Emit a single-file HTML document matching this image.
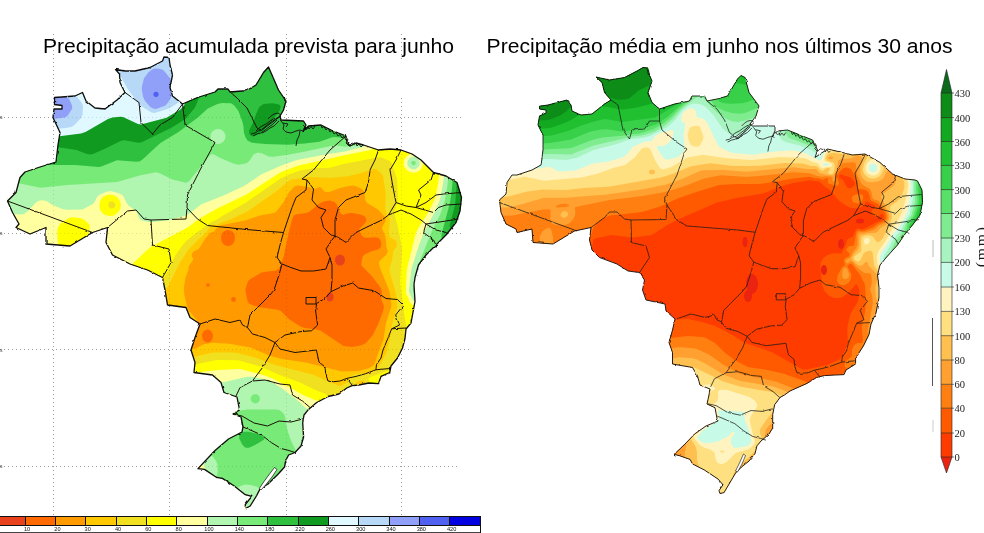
<!DOCTYPE html>
<html><head><meta charset="utf-8"><title>Precipitação</title>
<style>
html,body{margin:0;padding:0;background:#fff;}
body{width:984px;height:533px;overflow:hidden;font-family:"Liberation Sans",sans-serif;}
svg{display:block;position:absolute;left:0;top:0;}
text{font-family:"Liberation Sans",sans-serif;}
.t{font-size:19.3px;fill:#000;}
.sf{font-family:"Liberation Serif",serif;}
</style></head><body>
<svg width="984" height="533" viewBox="0 0 984 533">
<rect width="984" height="533" fill="#fff"/>
<defs><filter id="jag" x="-0.02" y="-0.02" width="1.04" height="1.04"><feTurbulence type="fractalNoise" baseFrequency="0.18" numOctaves="2" seed="7" result="n"/><feDisplacementMap in="SourceGraphic" in2="n" scale="2.2" xChannelSelector="R" yChannelSelector="G"/></filter></defs>
<g stroke="#9c9c9c" stroke-width="1" stroke-dasharray="1 3" fill="none" shape-rendering="crispEdges"><line x1="53.0" y1="34" x2="53.0" y2="516" /><line x1="169.5" y1="34" x2="169.5" y2="516" /><line x1="286.0" y1="34" x2="286.0" y2="516" /><line x1="401.5" y1="34" x2="401.5" y2="516" /><line x1="0" y1="117.0" x2="461" y2="117.0" /><line x1="0" y1="233.0" x2="462" y2="233.0" /><line x1="0" y1="349.5" x2="472" y2="349.5" /><line x1="0" y1="466.0" x2="459" y2="466.0" /></g>
<rect x="395" y="30" width="90" height="68" fill="#fff"/>
<g stroke="#9a9a9a" stroke-width="1" stroke-dasharray="1 3" fill="none" shape-rendering="crispEdges"><line x1="401.5" y1="34" x2="401.5" y2="62"/></g>
<clipPath id="clipL"><path d="M54.5,97.5L62.0,97.0L75.0,96.0L82.5,92.5L86.0,101.0L95.0,108.0L105.0,109.0L117.0,100.0L125.0,92.5L120.0,82.5L119.5,74.0L115.5,69.5L125.0,71.0L135.0,71.0L150.0,67.5L162.5,61.0L164.0,57.0L169.0,57.5L170.0,65.0L172.5,75.0L170.0,87.5L172.5,96.0L182.5,104.0L197.5,97.5L215.0,92.0L218.0,89.0L228.0,89.0L230.0,92.0L242.0,91.0L246.0,91.0L256.0,85.0L263.5,72.5L268.5,67.0L272.0,75.0L278.5,90.0L286.0,101.0L283.5,110.0L280.0,116.0L281.0,120.0L303.5,121.0L306.0,125.0L303.0,131.0L308.5,126.0L321.0,125.0L331.0,130.0L346.0,136.0L347.0,142.0L350.0,146.0L356.0,143.0L363.5,145.0L378.5,150.0L390.0,149.0L401.0,150.0L412.0,154.0L421.0,160.0L433.5,172.5L446.0,176.0L457.0,182.5L461.5,197.5L460.0,211.0L456.0,222.5L446.0,235.0L436.0,245.0L426.0,255.0L418.5,265.0L415.0,277.5L414.0,285.0L415.0,301.5L411.0,323.0L406.0,329.0L405.0,338.5L402.5,348.0L397.5,358.0L391.0,366.0L389.7,372.5L381.0,376.4L378.5,383.7L369.0,383.0L358.7,385.0L352.0,385.7L346.8,388.0L338.9,394.0L328.0,396.5L316.4,402.8L308.5,409.4L304.0,415.0L302.7,423.0L303.6,437.0L301.0,446.0L295.0,452.5L288.6,455.0L286.0,460.0L284.5,467.0L278.0,474.3L268.0,484.0L260.0,489.0L256.7,495.5L250.2,506.0L245.3,508.6L245.3,504.5L251.8,496.3L245.3,494.7L233.9,485.7L222.4,478.4L216.7,477.5L204.5,469.4L198.0,468.6L215.0,450.5L228.5,439.0L242.0,432.0L243.0,427.0L241.0,417.0L233.0,414.0L239.5,410.0L237.0,397.0L224.0,392.5L221.0,382.5L212.5,375.0L194.0,372.5L195.0,362.5L191.0,350.0L195.0,337.5L200.0,324.0L190.0,317.5L186.0,307.5L167.5,305.0L165.0,290.0L162.5,277.5L147.5,270.0L130.0,264.0L112.5,255.0L106.0,242.5L107.5,227.5L92.5,232.5L70.0,246.0L46.0,244.0L46.0,227.5L30.0,234.0L16.0,227.5L19.0,224.0L12.5,212.5L7.5,201.0L16.0,192.5L20.0,177.5L25.0,172.0L40.0,167.0L56.0,162.0L58.0,145.0L60.0,132.5L53.0,117.5L54.0,109.0L62.0,109.0L62.0,105.5L54.5,104.5Z"/></clipPath>
<g clip-path="url(#clipL)">
<rect x="0" y="50" width="480" height="465" fill="#ff6a00"/>
<path d="M1.5,50.0L480.0,50.0L480.0,515.0L0.0,515.0L0.0,50.0ZM323.6,201.5L319.5,203.6L309.0,212.0L306.0,212.9L295.5,214.6L294.0,215.5L292.5,218.0L289.7,228.5L283.5,257.0L279.6,267.5L278.7,269.0L276.0,270.5L264.0,271.9L261.0,272.7L249.0,280.1L247.5,282.5L245.3,290.0L247.4,300.5L249.0,303.4L250.5,304.3L259.5,307.3L277.5,309.7L280.5,310.7L289.5,319.5L300.0,326.2L304.5,327.9L316.5,329.4L320.4,330.5L343.5,346.1L352.5,347.1L361.5,345.2L366.0,342.9L372.8,335.0L378.0,324.5L383.1,311.0L384.0,306.5L381.2,299.0L382.0,293.0L381.0,288.2L372.0,276.3L361.9,266.0L361.4,264.5L361.6,261.5L362.6,257.0L364.5,254.5L372.0,251.0L378.0,249.4L380.2,248.0L381.3,245.0L381.0,241.8L379.7,239.0L378.0,237.7L375.0,237.2L367.5,237.8L364.5,237.5L363.0,236.7L361.1,234.5L359.4,231.5L359.2,230.0L359.8,228.5L364.5,223.7L366.3,221.0L366.2,218.0L364.5,216.2L361.5,214.8L352.5,213.0L349.5,213.0L343.5,214.8L342.0,214.6L340.5,213.4L336.8,204.5L334.5,201.9L330.0,200.4Z" fill="#ff9a00"/>
<path d="M1.5,50.0L480.0,50.0L480.0,515.0L0.0,515.0L0.0,50.0ZM294.5,186.5L288.9,192.5L283.0,203.0L276.0,212.0L273.0,213.2L261.0,215.2L246.0,220.2L220.5,225.6L216.2,228.5L214.2,231.5L210.0,233.0L205.0,239.0L199.5,248.1L198.0,249.5L194.5,251.0L192.6,252.5L191.6,255.5L192.0,257.1L193.2,258.5L193.1,260.0L188.8,266.0L188.3,270.5L185.4,278.0L183.8,288.5L184.3,294.5L187.4,308.0L189.1,311.0L196.7,320.0L198.1,323.0L197.7,324.5L193.5,329.7L190.7,338.0L190.5,341.0L191.7,347.0L192.7,348.5L195.0,348.7L204.0,344.3L213.0,342.7L229.5,343.8L250.5,347.6L270.0,355.7L282.0,359.1L306.0,362.6L342.0,371.6L358.5,371.1L367.5,368.5L372.1,366.5L373.9,365.0L374.8,363.5L377.1,356.0L383.4,339.5L386.0,323.0L391.3,306.5L391.4,303.5L389.5,291.5L379.9,267.5L378.8,263.0L379.2,261.5L380.6,260.0L385.5,255.5L387.0,253.4L387.7,251.0L386.3,246.5L386.2,242.0L385.2,236.0L382.0,228.5L382.9,225.5L385.5,221.0L385.3,218.0L384.0,216.0L378.0,209.6L367.2,203.0L365.3,200.0L364.7,194.0L363.8,191.0L361.5,188.9L355.5,185.9L352.5,185.4L346.4,186.5L340.3,188.0L330.0,191.8L327.0,192.3L324.0,191.3L321.0,187.4L319.5,187.1L315.0,189.0L309.0,187.3L298.5,185.6L297.0,185.6Z" fill="#ffc800"/>
<path d="M1.5,50.0L480.0,50.0L480.0,515.0L0.0,515.0L0.0,50.0ZM370.1,170.0L363.0,172.6L348.0,176.2L330.0,178.0L309.0,177.1L291.0,179.8L287.4,182.0L276.0,191.5L246.6,212.0L226.6,221.0L222.0,222.3L217.5,224.7L213.0,224.9L211.5,225.6L205.5,233.1L198.8,239.0L188.6,249.5L180.0,262.4L167.7,287.0L160.3,296.0L157.7,302.0L157.2,306.5L157.5,308.1L159.0,310.1L161.2,311.0L172.5,313.2L174.1,314.0L175.5,316.0L179.6,329.0L179.7,350.0L180.2,351.5L181.5,352.9L189.0,357.0L192.0,357.3L213.0,352.5L232.5,352.4L237.0,352.9L255.0,357.5L276.0,365.2L313.5,374.7L328.5,381.8L334.5,383.8L339.0,386.1L340.5,386.1L342.0,385.4L347.9,381.5L349.9,377.0L351.8,375.5L355.5,374.4L361.5,373.6L367.5,374.3L375.0,370.3L377.9,368.0L380.0,365.0L386.3,353.0L389.7,339.5L392.0,324.5L397.3,306.5L397.4,303.5L395.5,291.5L389.7,272.0L389.4,269.0L392.0,260.0L393.3,251.0L396.6,246.5L396.9,243.5L396.0,241.0L394.5,239.4L390.0,237.5L389.4,236.0L388.9,231.5L389.9,221.0L389.1,218.0L386.6,213.5L385.1,209.0L385.8,194.0L383.0,176.0L381.0,173.2L376.5,169.3L373.5,168.8ZM357.9,381.5L355.9,383.0L355.6,384.5L357.0,388.1L358.5,389.7L361.5,390.9L363.0,390.7L364.5,389.7L365.9,386.0L364.6,381.5L363.0,380.3L361.5,380.2Z" fill="#f0e020"/>
<path d="M1.5,50.0L480.0,50.0L480.0,515.0L0.0,515.0L0.0,50.0ZM416.2,128.0L411.4,131.0L407.3,135.5L403.9,141.5L403.0,146.0L404.6,147.5L414.0,147.7L420.0,149.3L424.4,152.0L430.5,157.1L432.0,156.1L432.4,155.0L433.9,147.5L433.6,141.5L432.0,135.4L429.0,130.7L425.4,128.0L421.5,127.0ZM374.8,158.0L343.5,164.0L330.0,167.7L313.5,168.2L300.0,170.6L289.5,174.3L280.5,178.5L246.0,202.5L220.5,217.0L217.0,219.5L211.5,221.9L198.0,231.5L186.7,240.5L183.0,244.6L175.3,255.5L169.3,269.0L163.0,279.5L160.5,282.0L142.1,296.0L137.5,300.5L133.1,306.5L129.2,315.5L128.1,324.5L128.6,329.0L129.9,333.5L134.1,341.0L141.3,348.5L154.9,359.0L162.5,363.5L171.0,366.7L177.0,367.7L181.5,367.5L216.0,360.1L238.5,360.3L260.6,366.5L279.0,374.7L300.0,382.6L316.4,390.5L325.5,393.9L331.5,399.3L334.5,399.6L337.8,398.0L343.5,391.6L346.2,387.5L348.0,386.4L349.5,386.5L351.0,387.5L354.5,395.0L358.5,398.6L361.5,399.6L364.5,399.7L369.0,397.7L371.2,395.0L372.3,390.5L371.5,386.0L368.6,380.0L368.4,378.5L370.5,377.0L391.5,369.5L394.5,367.9L400.5,363.2L402.7,360.5L407.8,351.5L409.7,336.5L409.3,333.5L406.4,326.0L405.3,321.5L400.1,282.5L402.0,251.0L401.7,246.5L397.9,227.0L394.3,213.5L394.4,210.5L396.9,204.5L398.0,200.0L397.1,179.0L391.4,162.5L389.5,161.0L381.0,157.3ZM110.2,201.5L108.5,203.0L108.3,206.0L109.2,207.5L111.0,208.5L114.0,207.9L115.3,206.0L115.4,204.5L114.8,203.0L112.5,201.2Z" fill="#ffff00"/>
<path d="M1.5,50.0L480.0,50.0L480.0,515.0L97.7,515.0L99.7,512.0L108.0,502.8L131.8,479.0L135.4,474.5L137.0,471.5L138.0,467.0L137.3,462.5L128.3,443.0L124.9,432.5L123.8,423.5L124.3,416.0L127.1,407.0L129.7,402.5L133.3,398.0L140.2,392.0L151.0,386.0L158.5,383.0L177.1,377.0L195.0,372.7L217.5,370.0L240.0,369.1L261.0,374.3L271.5,378.0L287.3,386.0L303.0,395.1L315.0,400.0L336.0,406.3L346.5,407.5L360.0,411.7L367.5,412.4L373.5,411.2L379.5,407.9L383.5,404.0L390.0,394.7L393.0,392.2L406.5,387.3L412.5,384.5L418.5,380.4L423.0,376.1L427.6,369.5L431.2,360.5L432.5,351.5L432.0,342.5L429.4,332.0L424.1,320.0L418.5,311.0L409.7,302.0L408.3,297.5L405.8,293.0L406.5,273.5L407.3,267.5L415.9,233.0L418.1,228.5L427.5,213.7L435.1,198.5L438.1,183.5L443.3,147.5L443.7,137.0L442.6,128.0L439.2,119.0L436.5,115.0L432.8,111.5L429.0,109.4L424.5,108.3L421.5,108.3L417.0,109.4L411.0,112.7L406.5,116.8L402.0,122.4L391.5,138.6L388.5,142.0L385.5,144.2L370.5,150.1L343.5,155.4L298.5,165.5L280.5,172.3L246.0,194.8L217.5,208.3L199.5,218.6L187.5,227.4L151.5,246.5L147.6,249.5L135.0,261.4L124.3,273.5L120.0,276.5L114.2,279.5L93.0,288.6L46.5,304.6L37.5,306.4L30.0,307.1L22.5,307.0L13.5,305.9L0.0,302.5L0.0,50.0ZM105.7,195.5L102.9,197.0L100.6,200.0L99.4,204.5L99.7,209.0L102.0,212.8L105.0,215.0L109.5,216.1L114.0,215.4L118.5,212.1L120.3,209.0L120.9,204.5L120.0,200.9L117.2,197.0L114.0,195.3L109.5,194.5ZM68.6,218.0L60.0,223.9L57.5,228.5L57.1,233.0L58.0,245.0L58.5,247.3L60.0,248.9L69.0,249.1L72.0,247.9L79.5,242.6L85.5,237.5L87.0,236.0L88.6,233.0L89.8,227.0L89.7,225.5L88.9,224.0L84.0,219.5L79.5,218.0L72.0,217.3ZM412.5,153.5L417.0,154.1L420.0,156.0L422.5,159.5L423.1,162.5L422.3,167.0L420.1,170.0L417.0,172.1L414.0,172.7L409.5,171.8L406.8,170.0L404.5,167.0L403.7,164.0L404.4,159.5L406.4,156.5L409.5,154.2Z" fill="#ffffa0"/>
<path d="M1.5,50.0L480.0,50.0L480.0,515.0L164.0,515.0L169.3,507.5L178.9,497.0L187.1,489.5L201.9,477.5L204.1,474.5L205.2,471.5L205.0,467.0L202.4,462.5L185.9,449.0L177.6,440.0L172.1,431.0L169.5,423.5L168.7,417.5L169.0,413.0L170.0,408.5L171.9,404.0L174.8,399.5L178.5,395.4L182.8,392.0L186.0,390.3L193.5,388.3L205.5,387.8L222.0,382.4L247.5,376.7L252.0,376.8L261.0,378.5L270.0,380.9L282.8,389.0L296.5,399.5L306.0,408.2L315.0,413.5L318.0,414.2L324.0,414.0L328.5,414.6L334.5,417.5L348.0,425.4L355.5,428.9L364.5,431.6L373.5,432.5L381.0,431.8L390.0,429.5L399.0,425.7L408.0,420.7L418.5,413.9L427.5,406.8L435.0,399.4L440.6,392.0L444.0,386.1L446.6,380.0L449.6,368.0L450.2,362.0L450.0,354.5L448.8,347.0L447.1,341.0L442.6,330.5L436.7,321.5L428.5,312.5L413.1,300.5L408.8,291.5L411.4,269.0L418.5,246.7L423.6,233.0L433.8,213.5L439.9,200.0L442.9,185.0L445.3,167.0L451.4,140.0L452.3,126.5L451.8,119.0L450.6,113.0L446.5,102.5L443.7,98.0L439.7,93.5L436.5,90.9L432.0,88.5L424.5,86.8L417.0,87.8L412.5,89.9L409.5,91.9L403.5,97.9L399.0,104.6L388.3,128.0L384.9,134.0L380.9,138.5L373.5,143.3L360.0,147.8L345.0,151.5L325.5,154.5L297.0,160.0L282.0,165.3L261.0,174.5L247.5,183.8L243.0,186.4L223.4,195.5L201.0,204.5L189.0,213.7L184.5,215.9L169.5,220.0L153.0,222.1L148.5,222.1L142.5,220.6L140.2,219.5L139.0,218.0L136.9,212.0L135.9,210.5L129.0,206.1L127.5,204.4L122.9,195.5L120.0,193.8L111.0,190.9L106.5,191.7L99.0,194.9L97.0,197.0L94.5,202.3L93.0,204.1L82.5,209.6L67.5,209.8L63.0,209.3L52.5,204.9L46.5,201.1L42.0,200.2L39.0,200.8L36.0,202.4L27.0,211.9L24.0,214.0L21.0,214.5L12.0,214.1L9.0,213.6L0.0,209.9L0.0,50.0ZM411.0,157.2L412.5,156.8L415.5,157.1L417.3,158.0L419.4,161.0L419.7,164.0L419.2,165.5L418.3,167.0L415.5,168.9L412.5,169.2L411.0,168.8L409.5,167.8L407.7,165.5L407.3,164.0L407.6,161.0L409.5,158.2Z" fill="#b0f5b0"/>
<path d="M1.5,50.0L480.0,50.0L480.0,515.0L272.1,515.0L275.7,509.0L276.6,506.0L276.7,503.0L275.5,500.0L272.2,497.0L256.5,486.6L250.7,485.0L246.0,484.4L242.8,485.0L236.6,488.0L233.0,491.0L231.7,494.0L231.6,498.5L232.7,503.0L235.3,509.0L239.0,515.0L198.1,515.0L199.5,504.5L202.5,494.8L205.9,489.5L214.0,482.0L217.1,474.5L217.8,471.5L217.2,464.0L216.1,461.0L211.5,455.0L205.5,450.0L203.4,447.5L201.2,443.0L199.6,437.0L199.6,431.0L201.4,425.0L205.5,420.1L211.5,416.7L217.5,414.9L231.0,412.1L247.5,409.6L276.0,409.5L279.0,409.9L280.5,410.7L283.1,413.0L285.0,416.0L286.6,426.5L288.0,431.9L291.0,440.6L295.8,450.5L298.7,458.0L298.6,461.0L296.3,470.0L296.3,474.5L297.0,477.8L298.5,480.5L300.0,481.8L304.5,482.8L310.5,482.1L337.5,476.3L367.5,472.8L378.0,471.0L391.5,467.4L403.5,462.8L412.5,458.2L420.0,453.6L427.5,448.2L435.0,441.8L441.4,435.5L447.9,428.0L453.0,420.9L457.5,413.5L461.5,405.5L464.8,396.5L467.2,387.5L468.5,378.5L468.9,369.5L468.3,360.5L466.6,351.5L464.4,344.0L461.3,336.5L458.0,330.5L454.0,324.5L448.9,318.5L442.3,312.5L436.5,308.4L418.5,299.0L415.5,295.8L414.0,292.9L413.3,290.0L414.7,285.5L419.9,278.0L420.3,276.5L417.6,269.0L418.5,264.3L432.0,230.8L440.0,215.0L444.6,201.5L447.1,188.0L449.3,168.5L458.1,141.5L461.3,126.5L462.0,117.5L462.0,110.0L460.9,101.0L459.2,93.5L456.6,86.0L453.0,78.6L448.5,71.9L444.0,66.9L439.5,63.0L433.5,59.2L427.5,56.7L421.5,55.5L415.5,55.6L411.0,56.6L405.0,59.3L400.5,62.7L397.0,66.5L393.9,71.0L390.9,77.0L388.6,83.0L385.5,95.1L381.0,122.0L379.3,128.0L377.3,132.5L374.3,137.0L371.0,140.0L358.5,145.2L345.0,146.8L336.0,145.4L333.0,145.4L301.5,152.3L286.5,155.0L273.0,156.8L268.5,156.4L262.5,153.4L258.0,152.6L255.3,153.5L253.2,155.0L249.2,161.0L247.5,162.7L244.5,163.8L238.5,164.8L234.0,163.8L220.2,158.0L214.5,154.7L211.5,154.1L210.0,155.2L189.0,181.2L186.0,182.7L172.5,179.6L159.0,172.9L156.0,172.2L139.5,175.4L117.0,182.1L67.5,185.0L40.5,187.7L0.0,179.2L0.0,50.0ZM412.5,160.8L414.6,161.0L415.8,162.5L415.7,164.0L414.0,165.3L412.5,165.1L411.4,164.0L411.2,162.5Z" fill="#78ea78"/>
<path d="M1.5,50.0L343.2,50.0L354.0,74.7L364.5,104.4L367.8,119.0L368.1,125.0L367.5,129.4L366.2,132.5L364.5,134.5L354.0,139.4L351.0,139.5L343.5,137.8L334.5,136.9L331.5,137.4L319.5,141.7L304.5,143.6L288.0,144.8L265.5,144.1L252.0,142.7L247.5,140.5L245.3,137.0L243.9,132.5L243.5,126.5L242.5,122.0L238.6,111.5L237.0,108.9L234.0,105.3L231.0,103.3L222.0,103.1L217.5,104.1L207.8,108.5L197.9,117.5L178.5,132.1L160.4,143.0L142.5,159.6L139.5,161.6L136.5,161.8L117.0,160.3L102.0,166.3L99.0,166.9L75.0,165.0L30.0,165.0L0.0,162.0L0.0,50.0ZM463.5,50.0L480.0,50.0L480.0,336.7L470.5,321.5L462.0,311.4L451.5,302.5L436.0,293.0L434.2,291.5L433.0,288.5L435.5,276.5L434.8,266.0L435.2,261.5L437.2,257.0L442.5,250.3L444.5,246.5L444.5,243.5L441.5,237.5L441.5,234.5L450.0,202.5L451.9,189.5L453.5,170.0L455.5,164.0L463.5,146.0L467.5,135.5L470.6,125.0L472.9,113.0L473.8,96.5L472.6,81.5L469.6,68.0L463.4,51.5L462.9,50.0ZM243.0,431.9L246.0,431.5L249.0,431.8L258.7,434.0L262.6,435.5L264.3,437.0L264.5,438.5L263.5,440.0L255.0,445.1L249.0,447.7L246.0,447.8L244.5,447.0L242.2,444.5L239.2,438.5L239.3,435.5L240.0,434.1ZM480.0,432.0L480.0,515.0L416.7,515.0L441.0,490.0L456.0,472.2L468.0,454.6Z" fill="#30c040"/>
<path d="M1.5,50.0L206.4,50.0L203.1,80.0L200.2,95.0L195.0,107.4L185.6,119.0L171.0,127.9L141.0,142.5L138.0,142.8L126.0,140.4L123.0,140.3L120.0,141.3L105.0,148.8L93.0,153.9L90.0,154.5L87.0,153.9L76.5,149.9L58.5,147.2L31.5,148.0L16.5,149.1L0.0,148.1L0.0,50.0ZM265.5,103.8L273.0,103.2L279.0,104.5L280.1,105.5L280.6,107.0L279.8,110.0L278.0,113.0L262.9,131.0L255.0,135.8L252.0,136.2L250.5,135.5L249.3,134.0L249.0,130.8L252.6,123.5L256.5,113.0L259.4,107.0L262.5,104.4ZM480.0,127.9L480.0,302.5L477.0,299.2L471.7,291.5L466.9,282.5L464.6,273.5L463.8,255.5L462.1,246.5L458.6,239.0L450.1,228.5L449.6,225.5L455.2,204.5L457.1,176.0L458.0,171.5L460.5,165.5L472.0,144.5ZM480.0,507.7L480.0,515.0L475.7,515.0L478.5,509.4Z" fill="#109a20"/>
<path d="M1.5,50.0L23.1,50.0L36.4,65.0L45.0,72.5L54.0,77.0L67.5,81.9L73.5,83.3L78.0,83.2L82.5,81.9L85.5,79.6L87.9,75.5L88.8,71.0L88.8,66.5L86.4,50.0L195.2,50.0L197.5,62.0L197.6,66.5L194.6,83.0L190.7,93.5L186.7,101.0L183.0,106.7L180.0,109.8L166.5,117.8L141.0,124.6L138.0,124.1L123.0,116.9L120.0,116.7L112.5,117.6L108.0,119.0L85.5,131.9L81.0,133.4L55.5,136.8L25.5,138.2L13.5,137.8L0.0,135.6L0.0,50.0ZM480.0,147.8L480.0,241.5L471.4,224.0L469.6,215.0L467.1,209.0L463.0,194.0L462.1,185.0L462.7,177.5L465.0,170.5L471.0,160.6Z" fill="#e0f8ff"/>
<path d="M112.5,50.0L180.0,50.0L184.5,59.6L186.0,66.5L185.9,84.5L182.9,96.5L181.5,99.8L178.5,102.5L169.2,108.5L154.5,113.1L151.5,112.5L141.0,106.0L138.0,102.9L127.7,89.0L121.0,77.0L116.5,63.5L112.2,54.5L111.8,50.0ZM1.5,70.2L9.0,71.2L16.5,73.6L24.0,77.0L37.0,84.5L40.5,86.0L61.5,89.9L73.5,94.1L76.6,96.5L81.4,102.5L83.0,105.5L82.5,114.5L81.5,117.5L74.4,125.0L72.0,126.7L69.0,127.5L57.0,129.1L39.0,130.0L24.0,129.1L12.0,126.7L0.0,121.9L0.0,70.2ZM480.0,164.3L480.0,199.5L477.0,195.8L474.0,190.6L472.5,186.5L471.9,182.0L472.4,177.5L474.1,173.0L477.0,167.8Z" fill="#b8d8f8"/>
<path d="M153.0,69.1L156.0,68.5L159.0,68.7L162.0,69.6L164.2,71.0L170.2,78.5L171.6,81.5L172.6,86.0L171.3,96.5L170.0,99.5L166.9,104.0L165.0,105.8L156.0,109.0L153.0,108.6L150.3,107.0L145.0,101.0L143.0,96.5L141.7,89.0L142.0,86.0L144.0,78.3L148.5,72.2ZM15.0,91.7L19.5,90.9L24.0,91.1L30.0,92.4L40.5,96.0L66.0,97.2L68.1,98.0L69.4,99.5L72.1,105.5L72.2,108.5L67.5,115.9L64.5,117.5L39.0,120.9L33.0,120.5L25.5,119.0L18.1,116.0L13.6,113.0L10.6,110.0L8.0,105.5L7.2,101.0L8.5,96.5L11.3,93.5Z" fill="#90a0f8"/>
<ellipse cx="218.0" cy="136.5" rx="7.5" ry="7.5" fill="#b0f5b0"/>
<ellipse cx="156.0" cy="94.3" rx="2.6" ry="2.6" fill="#5060f0"/>
<ellipse cx="228.0" cy="238.0" rx="7.0" ry="8.0" fill="#ff6a00"/>
<ellipse cx="207.5" cy="336.0" rx="5.5" ry="6.5" fill="#ff6a00"/>
<ellipse cx="340.0" cy="260.0" rx="5.0" ry="5.5" fill="#e8421c"/>
<ellipse cx="330.0" cy="297.0" rx="3.5" ry="4.5" fill="#e8421c"/>
<ellipse cx="208.0" cy="285.0" rx="1.8" ry="1.8" fill="#ff6a00"/>
<ellipse cx="233.5" cy="299.5" rx="2.4" ry="2.4" fill="#ff6a00"/>
<ellipse cx="255.3" cy="398.8" rx="4.6" ry="4.6" fill="#78ea78"/>
<ellipse cx="199.0" cy="466.5" rx="2.5" ry="2.0" fill="#ffffa0"/>
</g>
<g clip-path="url(#clipL)" opacity="0.3" style="mix-blend-mode:multiply"><g stroke="#9c9c9c" stroke-width="1" stroke-dasharray="1 3" fill="none" shape-rendering="crispEdges"><line x1="53.0" y1="34" x2="53.0" y2="516" /><line x1="169.5" y1="34" x2="169.5" y2="516" /><line x1="286.0" y1="34" x2="286.0" y2="516" /><line x1="401.5" y1="34" x2="401.5" y2="516" /><line x1="0" y1="117.0" x2="461" y2="117.0" /><line x1="0" y1="233.0" x2="462" y2="233.0" /><line x1="0" y1="349.5" x2="472" y2="349.5" /><line x1="0" y1="466.0" x2="459" y2="466.0" /></g></g>
<path d="M125.0,92.5L139.0,102.5L141.0,122.5L152.5,134.0L160.0,125.0L172.5,117.5L182.5,104.0M182.5,104.0L185.0,125.0L215.0,142.5L200.0,170.0L187.5,195.0L187.0,208.0M187.0,208.0L186.0,219.0L151.0,220.0M187.0,208.0L197.5,219.0L207.5,225.5L246.0,229.5L283.5,232.5M151.0,220.0L144.0,219.0L136.0,210.0L127.5,211.0L107.5,227.5M151.0,220.0L152.5,245.0L169.0,249.0L171.0,262.5L162.5,277.5M7.5,201.0L92.5,232.5M228.0,90.0L237.0,98.0L247.0,108.0L252.0,118.0L257.0,128.0L261.0,130.0L270.0,123.0L280.0,116.0M346.0,136.0L338.0,143.0L330.0,150.0L313.5,170.0L302.0,179.0M302.0,179.0L307.0,180.0L306.0,190.0L296.0,197.5L292.0,207.5L283.5,232.5L280.0,245.0L277.0,257.5L282.0,264.0M282.0,264.0L291.0,267.5L301.0,271.0L313.5,271.0L326.0,269.0L330.0,257.5L326.0,249.0L332.0,240.0L335.0,236.0M307.0,180.0L313.5,189.0L312.0,200.0L318.5,207.5L326.0,210.0L321.0,217.5L323.5,227.5L331.0,235.0L335.0,236.0M378.5,150.0L375.0,160.0L370.0,170.0L368.5,182.5L365.0,192.5L346.0,200.0L338.5,207.5L335.0,220.0L335.0,236.0M401.0,150.0L396.0,160.0L390.0,170.0L393.5,190.0L396.0,202.5L388.5,215.0L382.0,220.0L366.0,227.5L356.0,232.5L346.0,242.5L338.5,237.5L335.0,236.0M396.0,202.5L406.0,206.0L416.0,207.5L421.0,195.0L418.5,190.0L431.0,180.0L433.5,172.5M416.0,207.5L426.0,202.5L436.0,195.0L443.5,194.0L461.0,192.5M416.0,207.5L433.5,212.5L438.5,207.5L446.0,205.0L461.5,204.0M388.5,215.0L401.0,210.0L411.0,214.0L421.0,220.0L426.0,224.0L446.0,221.0L458.5,219.0M426.0,224.0L436.0,230.0L446.0,232.5L448.0,234.0M426.0,224.0L423.5,232.5L433.5,240.0L436.0,245.0M330.0,257.5L332.0,265.0L332.0,280.0L331.0,291.7M331.0,291.7L343.0,286.0L352.7,283.0L358.5,288.0L374.0,290.7L386.0,298.5L397.5,299.5L403.4,305.4L395.6,315.0L399.5,325.0L391.7,328.8M391.7,328.8L406.0,328.0M391.7,328.8L387.8,338.5L383.0,350.0L381.0,358.0L376.5,364.5L375.9,369.8M375.9,369.8L389.7,368.5M375.9,369.8L365.3,373.8L356.0,376.4L346.8,378.4L340.0,381.0L333.6,381.7M346.8,378.4L352.0,385.0M331.0,291.7L325.0,298.5L316.6,303.4L315.6,311.0L317.6,325.0L311.7,330.7L300.0,331.7L285.0,335.0L275.0,342.5M306.0,297.5L316.0,297.5L316.0,304.0L306.0,304.0L306.0,297.5M282.0,264.0L279.0,275.0L274.0,290.0L270.0,295.0L257.5,307.5L250.0,315.0L247.5,327.5M200.0,324.0L215.0,319.0L230.0,322.5L240.0,320.0L242.5,325.0L247.5,327.5M247.5,327.5L252.5,334.0L265.0,337.5L275.0,342.5M275.0,342.5L270.0,355.0L262.5,367.5L255.0,377.5L252.5,381.0M275.0,342.5L280.0,349.0L295.0,352.5L316.4,350.0L319.0,362.0L325.0,367.0L325.7,373.8L328.0,381.0L333.6,381.7M252.5,381.0L265.0,380.0L280.0,384.0L290.0,385.0L292.5,395.0L302.5,401.0L310.0,407.5M252.5,381.0L240.0,387.5L236.0,396.0M233.0,414.0L242.0,416.0L254.0,423.0L267.5,426.0L279.0,421.0L291.0,422.0L302.7,419.0M243.0,427.0L248.0,429.0L261.7,435.0L271.5,442.7L281.0,448.5L289.0,450.5L295.0,452.5" fill="none" stroke="#1a1208" stroke-width="1.0" stroke-linejoin="round" filter="url(#jag)"/>
<path d="M54.5,97.5L62.0,97.0L75.0,96.0L82.5,92.5L86.0,101.0L95.0,108.0L105.0,109.0L117.0,100.0L125.0,92.5L120.0,82.5L119.5,74.0L115.5,69.5L125.0,71.0L135.0,71.0L150.0,67.5L162.5,61.0L164.0,57.0L169.0,57.5L170.0,65.0L172.5,75.0L170.0,87.5L172.5,96.0L182.5,104.0L197.5,97.5L215.0,92.0L218.0,89.0L228.0,89.0L230.0,92.0L242.0,91.0L246.0,91.0L256.0,85.0L263.5,72.5L268.5,67.0L272.0,75.0L278.5,90.0L286.0,101.0L283.5,110.0L280.0,116.0L281.0,120.0L303.5,121.0L306.0,125.0L303.0,131.0L308.5,126.0L321.0,125.0L331.0,130.0L346.0,136.0L347.0,142.0L350.0,146.0L356.0,143.0L363.5,145.0L378.5,150.0L390.0,149.0L401.0,150.0L412.0,154.0L421.0,160.0L433.5,172.5L446.0,176.0L457.0,182.5L461.5,197.5L460.0,211.0L456.0,222.5L446.0,235.0L436.0,245.0L426.0,255.0L418.5,265.0L415.0,277.5L414.0,285.0L415.0,301.5L411.0,323.0L406.0,329.0L405.0,338.5L402.5,348.0L397.5,358.0L391.0,366.0L389.7,372.5L381.0,376.4L378.5,383.7L369.0,383.0L358.7,385.0L352.0,385.7L346.8,388.0L338.9,394.0L328.0,396.5L316.4,402.8L308.5,409.4L304.0,415.0L302.7,423.0L303.6,437.0L301.0,446.0L295.0,452.5L288.6,455.0L286.0,460.0L284.5,467.0L278.0,474.3L268.0,484.0L260.0,489.0L256.7,495.5L250.2,506.0L245.3,508.6L245.3,504.5L251.8,496.3L245.3,494.7L233.9,485.7L222.4,478.4L216.7,477.5L204.5,469.4L198.0,468.6L215.0,450.5L228.5,439.0L242.0,432.0L243.0,427.0L241.0,417.0L233.0,414.0L239.5,410.0L237.0,397.0L224.0,392.5L221.0,382.5L212.5,375.0L194.0,372.5L195.0,362.5L191.0,350.0L195.0,337.5L200.0,324.0L190.0,317.5L186.0,307.5L167.5,305.0L165.0,290.0L162.5,277.5L147.5,270.0L130.0,264.0L112.5,255.0L106.0,242.5L107.5,227.5L92.5,232.5L70.0,246.0L46.0,244.0L46.0,227.5L30.0,234.0L16.0,227.5L19.0,224.0L12.5,212.5L7.5,201.0L16.0,192.5L20.0,177.5L25.0,172.0L40.0,167.0L56.0,162.0L58.0,145.0L60.0,132.5L53.0,117.5L54.0,109.0L62.0,109.0L62.0,105.5L54.5,104.5Z" fill="none" stroke="#0c0c0c" stroke-width="1.3" stroke-linejoin="round" filter="url(#jag)"/>
<path d="M251,134L255,133L258,131L262,130L266,127L270,124L274,121L278,118L281,116M253,136L257,134L261,133L265,130L269,127L273,124L277,120M256,131L259,128L262,126L266,124L270,121L275,118M262,133L266,131L270,128L274,126L279,121M281,121L284,125L283,129L286,132L291,133L296,131L300,130L303,131M300,131L299,136L297,140L296,146M303,125L306,128L309,127M283,123L288,124L286,127M346,137L348,140L346,143L349,146L352,143L355,144M268,119L271,116L274,114L278,113L281,115M321,125L322,128L324,126.5L326,130L328,128L330,132L332,130.5L334,134L336,132.5L338,136L340,134.5L342,138L344,136.5L346,140M308,126L309,129L311,126.5L313,129L315,126M356,143L357,146L359,144L361,147L363,145" fill="none" stroke="#111" stroke-width="0.9" stroke-linejoin="round"/>
<path d="M274.5,467.5L277,469.5L272,477L266,484.5L261,490L259.3,488.5L264,481.5L269.5,474Z" fill="#fff" stroke="#111" stroke-width="0.7"/>
<text x="0" y="119.0" font-size="5" fill="#333">s</text>
<text x="0" y="235.0" font-size="5" fill="#333">s</text>
<text x="0" y="351.5" font-size="5" fill="#333">s</text>
<text x="0" y="468.0" font-size="5" fill="#333">s</text>
<rect x="-5.30" y="516" width="30.63" height="9.5" fill="#e8421c"/>
<rect x="25.03" y="516" width="30.63" height="9.5" fill="#ff6a00"/>
<rect x="55.36" y="516" width="30.63" height="9.5" fill="#ff9a00"/>
<rect x="85.69" y="516" width="30.63" height="9.5" fill="#ffc800"/>
<rect x="116.02" y="516" width="30.63" height="9.5" fill="#f0e020"/>
<rect x="146.35" y="516" width="30.63" height="9.5" fill="#ffff00"/>
<rect x="176.68" y="516" width="30.63" height="9.5" fill="#ffffa0"/>
<rect x="207.01" y="516" width="30.63" height="9.5" fill="#b0f5b0"/>
<rect x="237.34" y="516" width="30.63" height="9.5" fill="#78ea78"/>
<rect x="267.67" y="516" width="30.63" height="9.5" fill="#30c040"/>
<rect x="298.00" y="516" width="30.63" height="9.5" fill="#109a20"/>
<rect x="328.33" y="516" width="30.63" height="9.5" fill="#e0f8ff"/>
<rect x="358.66" y="516" width="30.63" height="9.5" fill="#b8d8f8"/>
<rect x="388.99" y="516" width="30.63" height="9.5" fill="#90a0f8"/>
<rect x="419.32" y="516" width="30.63" height="9.5" fill="#5060f0"/>
<rect x="449.65" y="516" width="30.63" height="9.5" fill="#0000e0"/>
<g stroke="#111" stroke-width="1" shape-rendering="crispEdges">
<line x1="25.0" y1="516" x2="25.0" y2="526"/>
<line x1="55.4" y1="516" x2="55.4" y2="526"/>
<line x1="85.7" y1="516" x2="85.7" y2="526"/>
<line x1="116.0" y1="516" x2="116.0" y2="526"/>
<line x1="146.3" y1="516" x2="146.3" y2="526"/>
<line x1="176.7" y1="516" x2="176.7" y2="526"/>
<line x1="207.0" y1="516" x2="207.0" y2="526"/>
<line x1="237.3" y1="516" x2="237.3" y2="526"/>
<line x1="267.7" y1="516" x2="267.7" y2="526"/>
<line x1="298.0" y1="516" x2="298.0" y2="526"/>
<line x1="328.3" y1="516" x2="328.3" y2="526"/>
<line x1="358.7" y1="516" x2="358.7" y2="526"/>
<line x1="389.0" y1="516" x2="389.0" y2="526"/>
<line x1="419.3" y1="516" x2="419.3" y2="526"/>
<line x1="449.6" y1="516" x2="449.6" y2="526"/>
<line x1="0" y1="516" x2="480" y2="516"/><line x1="0" y1="525.5" x2="480" y2="525.5"/><line x1="480" y1="516" x2="480" y2="533"/><line x1="0" y1="532" x2="480" y2="532" stroke="#444"/>
</g>
<text x="27.0" y="531.3" font-size="5.6" text-anchor="middle" fill="#111">10</text>
<text x="57.4" y="531.3" font-size="5.6" text-anchor="middle" fill="#111">20</text>
<text x="87.7" y="531.3" font-size="5.6" text-anchor="middle" fill="#111">30</text>
<text x="118.0" y="531.3" font-size="5.6" text-anchor="middle" fill="#111">40</text>
<text x="148.3" y="531.3" font-size="5.6" text-anchor="middle" fill="#111">60</text>
<text x="178.7" y="531.3" font-size="5.6" text-anchor="middle" fill="#111">80</text>
<text x="209.0" y="531.3" font-size="5.6" text-anchor="middle" fill="#111">100</text>
<text x="239.3" y="531.3" font-size="5.6" text-anchor="middle" fill="#111">140</text>
<text x="269.7" y="531.3" font-size="5.6" text-anchor="middle" fill="#111">180</text>
<text x="300.0" y="531.3" font-size="5.6" text-anchor="middle" fill="#111">220</text>
<text x="330.3" y="531.3" font-size="5.6" text-anchor="middle" fill="#111">260</text>
<text x="360.7" y="531.3" font-size="5.6" text-anchor="middle" fill="#111">300</text>
<text x="391.0" y="531.3" font-size="5.6" text-anchor="middle" fill="#111">340</text>
<text x="421.3" y="531.3" font-size="5.6" text-anchor="middle" fill="#111">380</text>
<text x="451.6" y="531.3" font-size="5.6" text-anchor="middle" fill="#111">420</text>
<clipPath id="clipR"><path d="M539.5,106.2L548.0,105.0L567.0,100.0L571.0,105.0L572.0,111.0L581.0,115.0L592.0,114.0L604.5,104.0L611.0,100.0L604.5,92.5L602.0,82.5L596.0,77.0L609.5,80.0L624.5,77.5L637.0,71.0L643.0,67.5L648.0,68.0L649.5,75.0L652.0,81.0L648.0,92.5L652.0,102.5L659.5,109.0L674.5,104.0L689.5,101.0L692.0,96.0L704.5,96.0L707.0,101.0L717.0,99.0L727.5,96.0L737.5,79.0L741.0,75.5L745.0,77.5L749.0,92.5L759.0,106.0L756.0,116.0L750.0,124.0L752.5,126.0L775.0,126.0L775.0,131.0L772.0,137.0L777.5,131.0L787.5,130.0L800.0,135.0L812.5,140.0L817.5,150.0L815.0,157.5L827.5,149.0L842.5,152.5L852.5,155.0L865.0,154.0L880.0,162.5L892.5,174.0L905.0,179.0L915.0,180.0L917.5,181.0L922.0,190.0L922.5,202.5L920.0,215.0L912.5,225.0L905.0,234.0L897.5,245.0L887.5,256.0L880.0,265.0L877.5,275.0L879.0,287.5L879.0,297.5L876.0,313.0L871.0,324.0L869.0,334.6L863.4,346.0L855.6,358.0L855.6,364.0L846.0,370.0L844.0,374.6L824.4,375.6L816.6,377.5L807.0,383.4L790.0,391.0L784.4,395.0L780.0,397.5L774.6,404.8L772.7,414.5L772.7,428.0L769.0,434.0L761.0,441.0L757.0,445.7L755.0,453.5L749.0,461.0L741.5,467.0L735.6,473.0L729.8,482.8L724.0,492.6L720.0,493.5L719.0,490.6L723.0,484.8L718.0,479.0L704.4,470.0L692.7,464.0L690.0,459.4L679.0,455.5L674.0,454.5L685.0,444.0L694.6,434.0L706.0,426.0L718.0,421.0L717.0,418.4L715.0,407.7L707.0,404.0L709.0,395.0L710.0,389.0L700.0,385.0L697.5,376.0L692.5,367.5L672.5,364.0L672.5,352.5L669.0,342.5L672.5,330.0L675.0,319.0L666.0,311.0L665.0,304.0L646.0,300.0L642.5,290.0L644.5,280.0L639.5,272.5L628.0,271.0L617.0,264.0L599.5,257.5L592.0,250.0L589.5,240.0L591.0,227.5L574.5,231.0L553.0,244.0L533.0,242.5L532.0,229.0L517.0,232.5L516.0,229.0L506.0,224.0L501.0,212.5L499.5,200.0L506.0,194.0L507.0,182.5L512.0,175.0L517.0,175.0L532.0,170.0L541.0,165.0L543.0,150.0L543.0,135.0L538.0,125.0L539.5,116.0L546.0,113.0L546.0,110.0L539.5,109.0Z"/></clipPath>
<g clip-path="url(#clipR)">
<rect x="490" y="60" width="440" height="440" fill="#ff3c00"/>
<path d="M491.5,60.0L931.0,60.0L931.0,501.0L641.0,501.0L642.2,487.5L646.4,456.0L645.7,447.0L642.5,439.5L636.1,432.0L619.0,417.7L611.5,410.7L604.9,403.5L598.0,394.5L593.2,387.0L588.3,378.0L583.7,367.5L574.4,343.5L571.2,337.5L567.9,333.0L560.5,326.3L536.5,310.8L523.0,300.1L512.5,289.5L494.5,266.8L490.0,262.6L490.0,60.0ZM839.1,175.5L839.5,177.4L843.0,180.0L847.0,187.6L848.5,188.3L851.5,188.1L854.5,185.5L855.0,184.5L854.5,182.1L851.5,178.2L850.0,177.2L845.5,176.1L841.0,174.2ZM803.3,181.5L793.0,183.0L787.5,184.5L778.1,187.5L764.5,193.1L737.5,197.7L716.5,202.8L679.1,219.0L667.3,225.0L653.5,234.1L650.5,235.3L632.5,237.4L611.5,235.1L595.0,238.6L593.2,240.0L592.3,244.5L592.3,274.5L593.7,289.5L595.3,295.5L597.4,300.0L599.6,303.0L603.1,306.0L607.0,308.0L613.0,309.7L647.5,313.3L658.0,315.5L674.5,319.8L686.5,319.0L689.5,319.3L703.0,322.2L715.0,326.0L730.0,333.4L745.0,343.0L772.0,352.3L802.0,369.2L806.5,369.4L827.5,364.7L839.5,359.6L842.5,356.0L847.5,345.0L847.9,342.0L847.2,330.0L847.7,325.5L850.6,313.5L857.5,302.4L859.3,294.0L859.2,289.5L857.5,285.2L856.0,284.0L848.5,292.8L842.5,297.0L839.5,298.0L835.0,298.1L832.0,297.3L829.0,295.7L824.5,291.0L822.1,285.0L820.3,267.0L820.7,262.5L823.4,258.0L827.6,255.0L833.5,253.3L841.3,253.5L846.1,244.5L847.1,240.0L848.5,238.4L853.0,236.6L856.0,229.3L857.5,228.5L862.0,229.3L865.0,228.6L877.0,222.1L881.4,220.5L883.0,219.0L884.0,216.0L883.0,213.7L881.5,213.5L878.7,216.0L877.0,216.7L873.7,216.0L872.2,214.5L871.6,211.5L872.5,209.8L875.6,207.0L875.2,205.5L866.5,201.3L863.7,205.5L860.5,207.6L856.0,208.4L850.0,207.4L845.8,205.5L839.5,201.0L836.5,198.0L830.8,190.5L826.0,187.4L819.4,181.5L809.5,180.2ZM866.0,196.5L866.5,198.9L866.5,195.2Z" fill="#ff5a00"/>
<path d="M491.5,60.0L931.0,60.0L931.0,501.0L657.7,501.0L658.4,490.5L659.8,480.0L666.2,450.0L666.9,438.0L666.2,430.5L664.0,426.1L660.7,423.0L641.5,411.3L631.2,403.5L624.1,396.0L618.9,388.5L614.2,378.0L612.9,372.0L612.5,367.5L612.9,361.5L614.0,357.0L616.0,352.6L618.1,349.5L622.6,345.0L628.0,341.5L634.0,339.1L641.5,337.4L653.5,336.7L673.0,337.8L688.0,336.1L703.0,337.0L706.0,338.0L715.0,343.1L724.7,352.5L734.5,360.1L748.0,367.0L767.5,370.1L784.0,373.8L814.0,384.4L818.5,384.8L823.0,384.5L827.5,383.5L832.0,381.6L836.5,378.6L846.3,370.5L846.3,369.0L844.6,366.0L844.9,363.0L847.0,360.0L851.3,357.0L851.8,355.5L852.0,349.5L854.2,345.0L857.5,342.9L862.0,342.9L862.6,342.0L862.8,339.0L861.7,327.0L864.8,313.5L866.0,301.5L865.1,286.5L864.5,283.5L859.8,274.5L851.7,264.0L850.0,264.0L847.1,265.5L851.5,274.5L851.0,279.0L848.5,283.0L847.0,284.1L844.0,285.2L841.0,285.0L839.5,284.2L838.0,282.7L837.0,280.5L837.4,276.0L842.0,267.0L844.7,265.5L844.8,264.0L843.8,261.0L844.1,259.5L845.5,257.8L848.5,256.5L849.4,255.0L849.5,253.5L846.4,250.5L846.5,249.0L848.5,246.7L850.0,246.0L853.0,245.9L854.1,244.5L856.3,232.5L857.1,231.0L859.0,230.3L862.0,231.0L865.0,230.6L872.5,227.7L878.5,223.6L882.6,222.0L885.5,219.0L886.1,217.5L885.8,214.5L883.3,210.0L878.5,204.2L871.0,200.6L870.3,199.5L869.5,194.9L868.0,191.8L866.5,190.6L863.5,189.4L857.5,189.0L857.2,187.5L858.1,184.5L857.4,181.5L851.5,170.0L850.0,168.5L847.0,167.4L844.0,167.9L842.5,168.8L837.4,174.0L836.8,177.0L839.1,183.0L838.0,185.4L836.5,185.8L829.0,183.8L828.2,183.0L827.8,181.5L828.3,178.5L827.5,178.2L826.0,178.0L823.0,179.9L818.5,178.2L815.5,178.5L809.5,176.8L791.5,178.8L773.5,182.1L760.0,183.9L737.5,184.1L719.5,185.0L696.3,192.0L679.0,198.1L659.5,206.7L644.5,211.2L638.5,212.4L610.0,215.4L602.5,218.6L599.5,220.5L593.5,227.3L589.0,241.8L583.0,255.8L577.0,266.5L571.0,274.1L565.0,279.0L557.5,281.9L550.0,282.2L542.5,280.1L538.0,277.9L533.5,274.8L525.7,267.0L519.9,258.0L511.6,240.0L508.0,235.3L504.2,232.5L500.5,231.0L496.0,230.3L490.0,230.2L490.0,60.0ZM854.5,194.7L857.5,194.0L862.0,194.4L863.1,196.5L863.2,198.0L862.0,201.4L860.5,202.7L857.5,203.6L853.7,202.5L852.3,201.0L851.7,198.0L852.3,196.5Z" fill="#ff7f10"/>
<path d="M491.5,60.0L931.0,60.0L931.0,501.0L672.9,501.0L672.8,489.0L673.5,477.0L678.7,439.5L679.9,435.0L682.2,430.5L685.0,427.2L690.2,423.0L691.2,421.5L691.3,420.0L690.2,418.5L688.1,417.0L664.0,407.3L656.6,403.5L650.5,399.5L644.6,394.5L640.7,390.0L637.0,384.0L634.8,378.0L634.2,370.5L635.7,364.5L639.5,358.5L644.5,354.4L649.0,352.3L655.0,350.7L677.5,347.3L682.0,347.2L695.5,348.6L707.5,353.8L712.0,356.4L722.9,364.5L740.5,374.0L776.5,381.7L797.5,390.0L811.0,397.8L815.5,399.5L820.0,399.9L826.0,398.4L832.0,394.9L838.0,389.8L857.5,368.7L864.6,358.5L866.9,354.0L869.9,345.0L869.8,340.5L867.6,331.5L872.8,303.0L872.2,295.5L870.0,289.5L871.7,283.5L871.6,277.5L871.0,274.5L869.5,273.3L866.5,273.2L863.5,272.4L856.0,266.6L853.0,262.6L851.5,261.5L850.0,261.6L848.5,263.0L847.0,263.2L846.0,262.5L845.5,261.0L846.4,259.5L850.0,257.8L853.0,252.1L856.4,247.5L857.5,244.5L857.5,234.9L858.6,232.5L865.0,232.2L874.0,229.7L879.6,225.0L884.5,223.0L886.6,220.5L887.8,217.5L887.4,214.5L885.4,210.0L880.1,202.5L877.0,200.3L874.0,199.5L872.5,198.1L871.4,192.0L869.9,189.0L861.9,184.5L857.4,175.5L855.7,163.5L854.5,162.6L853.0,162.3L845.5,162.7L842.5,163.6L841.0,165.0L836.5,172.7L835.3,175.5L835.5,180.0L835.0,181.5L833.5,181.7L832.2,180.0L832.7,178.5L832.0,177.3L830.5,176.6L826.0,176.2L821.5,176.8L815.5,175.6L809.5,173.3L793.0,172.2L769.0,175.1L746.5,177.0L721.0,175.3L704.5,178.4L682.0,187.0L664.0,192.3L643.0,196.0L608.5,200.3L575.3,207.0L574.9,208.5L575.4,211.5L575.2,214.5L573.3,219.0L569.5,223.3L565.0,225.0L554.5,224.6L551.7,223.5L550.3,219.0L550.6,210.0L548.5,209.2L541.0,209.7L512.5,215.5L490.0,216.5L490.0,60.0ZM560.7,204.0L557.0,205.5L555.7,207.0L557.5,207.5L566.0,207.0L569.7,205.5L566.5,203.8ZM777.0,429.0L773.5,430.1L771.1,432.0L770.6,433.5L772.0,435.8L782.5,445.9L785.5,448.1L790.0,449.1L792.4,448.5L794.6,447.0L796.8,444.0L797.7,439.5L797.2,436.5L795.3,433.5L791.5,430.9L787.0,429.4L782.5,428.7ZM548.5,227.8L550.0,228.1L551.7,231.0L553.0,237.0L553.1,243.0L551.5,246.7L550.0,247.8L547.0,248.1L544.0,247.0L541.4,244.5L540.0,241.5L539.6,238.5L540.1,235.5L542.5,231.5L545.5,229.0ZM844.0,267.9L845.5,267.6L847.0,268.4L849.2,274.5L848.5,277.4L847.0,278.7L845.5,279.1L844.0,278.9L842.6,277.5L842.1,276.0L842.7,270.0Z" fill="#ffa030"/>
<path d="M491.5,60.0L931.0,60.0L931.0,501.0L688.6,501.0L686.5,485.5L684.7,460.5L684.8,453.0L686.3,445.5L686.3,438.0L687.0,435.0L688.9,432.0L695.5,427.5L700.4,423.0L701.9,420.0L701.5,417.0L699.3,414.0L695.5,411.3L673.0,399.6L663.2,393.0L658.5,388.5L655.1,384.0L653.0,379.5L652.1,375.0L652.4,370.5L653.5,367.5L655.5,364.5L659.5,361.5L679.0,357.2L692.5,358.2L697.0,359.4L706.0,363.9L722.5,374.1L737.5,380.0L742.0,381.3L773.5,386.6L785.5,391.0L789.4,393.0L793.0,396.0L796.2,400.5L797.6,405.0L797.1,409.5L795.1,412.5L791.5,415.1L778.0,419.9L773.5,422.1L769.0,425.5L766.0,429.2L765.0,433.5L766.0,436.5L769.4,442.5L769.9,448.5L768.8,453.0L763.4,465.0L762.4,469.5L762.4,472.5L763.6,477.0L766.6,481.5L770.5,484.5L776.5,486.6L782.5,486.7L788.5,485.2L794.5,482.3L800.5,478.0L805.0,473.7L809.5,468.1L815.5,457.8L819.6,447.0L825.3,426.0L828.8,418.5L866.5,363.3L870.0,357.0L874.9,345.0L877.4,333.0L878.7,309.0L878.3,304.5L875.9,297.0L875.2,288.0L875.6,285.0L877.6,279.0L877.3,276.0L875.5,272.8L868.5,265.5L867.7,262.5L866.5,261.7L865.0,262.5L862.2,265.5L859.0,265.6L856.0,263.8L851.9,259.5L851.7,258.0L853.0,255.3L857.2,250.5L858.9,247.5L859.4,244.5L859.4,237.0L860.5,234.8L868.0,233.3L874.0,233.1L877.0,232.3L880.6,228.0L886.0,224.8L888.6,220.5L889.6,217.5L889.1,214.5L881.2,196.5L881.8,195.0L893.5,186.0L895.0,183.9L895.6,181.5L895.7,177.0L895.0,173.6L893.5,170.9L892.0,169.6L890.5,169.2L889.0,169.5L887.5,170.6L883.0,178.4L880.0,180.7L877.0,181.6L871.0,182.2L866.5,181.7L862.0,177.4L860.4,174.0L860.2,168.0L861.9,160.5L862.0,157.5L860.5,155.7L857.5,155.5L850.0,158.4L841.0,159.1L838.1,160.5L837.3,166.5L835.2,172.5L833.5,175.3L832.0,175.5L827.5,174.9L820.0,173.0L818.5,171.9L817.0,169.4L815.5,169.0L809.5,169.2L793.0,167.2L746.5,171.8L724.0,170.0L703.0,170.2L699.8,171.0L682.0,178.9L666.2,184.5L643.0,189.3L607.0,194.5L565.0,197.8L544.0,197.8L511.0,207.2L490.0,207.8L490.0,60.0ZM828.6,157.5L828.9,159.0L830.5,159.2L832.4,159.0L833.5,157.5L830.5,156.3ZM563.5,211.1L566.5,211.4L567.9,213.0L568.1,214.5L567.5,216.0L565.0,217.8L562.3,217.5L560.8,216.0L560.6,214.5L561.1,213.0Z" fill="#ffc050"/>
<path d="M491.5,60.0L931.0,60.0L931.0,501.0L807.4,501.0L818.5,485.3L826.0,471.2L831.3,457.5L839.8,429.0L844.8,415.5L858.2,387.0L873.6,360.0L879.0,348.0L881.4,340.5L883.3,328.5L883.4,312.0L882.1,304.5L878.5,295.5L877.9,289.5L878.1,286.5L880.2,280.5L880.5,277.5L879.2,273.0L874.2,265.5L872.5,252.5L871.0,250.8L869.5,250.6L865.0,252.2L863.5,253.6L860.8,259.5L859.0,261.5L857.5,261.6L856.0,260.8L854.4,259.5L853.8,258.0L854.5,256.3L860.5,252.0L861.4,250.5L861.3,240.0L862.2,237.0L865.3,235.5L870.4,235.5L873.2,237.0L877.0,242.2L878.5,242.2L881.5,240.1L882.7,238.5L888.2,228.0L892.2,217.5L891.8,214.5L890.1,210.0L890.5,206.4L892.0,204.7L896.5,202.1L899.5,199.0L902.5,193.6L904.5,187.5L904.3,183.0L900.8,171.0L898.9,166.5L896.5,163.2L892.0,160.2L889.0,160.1L887.5,160.8L885.4,163.5L882.2,172.5L880.0,176.0L877.0,177.8L874.0,178.4L871.0,178.4L868.0,177.6L864.1,174.0L862.9,169.5L864.0,163.5L867.9,156.0L868.4,153.0L868.0,151.5L866.5,149.9L863.5,148.8L860.5,148.8L856.0,150.2L850.0,153.6L847.0,154.5L842.5,154.3L833.5,152.8L830.5,153.2L827.5,154.8L826.0,157.3L826.0,159.0L827.5,160.6L833.5,162.7L834.8,165.0L833.7,172.5L832.0,174.1L829.8,174.0L828.0,172.5L830.1,169.5L829.1,168.0L827.0,168.0L823.0,170.8L821.5,170.5L817.0,166.6L815.5,166.0L811.0,166.0L805.0,164.0L802.0,163.5L784.0,163.0L760.0,165.7L746.5,166.0L731.5,165.7L710.5,163.2L691.0,166.3L673.0,173.7L661.0,177.6L610.0,186.6L584.5,187.9L565.0,189.9L542.5,189.6L526.0,191.7L509.5,196.2L496.0,197.8L490.0,197.8L490.0,60.0ZM679.0,368.5L692.5,367.6L695.5,368.0L724.0,381.7L740.5,386.8L773.5,392.3L781.7,396.0L783.8,397.5L784.9,399.0L785.4,402.0L784.0,405.2L781.0,407.7L772.0,413.0L766.0,420.3L760.2,429.0L759.7,432.0L762.5,441.0L761.5,444.6L748.0,458.0L739.3,465.0L734.1,472.5L733.1,475.5L733.0,478.5L735.4,492.0L735.5,501.0L710.2,501.0L707.2,495.0L704.6,487.5L701.1,472.5L697.1,460.5L696.9,451.5L696.2,448.5L695.0,445.5L691.3,439.5L690.9,436.5L692.4,433.5L696.7,430.5L705.0,423.0L707.2,418.5L707.3,415.5L706.0,412.6L704.5,410.9L681.2,393.0L676.5,388.5L673.3,384.0L671.5,379.5L671.8,375.0L674.5,371.1Z" fill="#ffe080"/>
<path d="M491.5,60.0L931.0,60.0L931.0,501.0L827.0,501.0L835.0,483.4L840.2,469.5L852.4,424.5L859.8,402.0L866.5,385.5L881.8,354.0L885.2,345.0L887.1,337.5L888.2,325.5L887.7,313.5L886.2,306.0L881.9,295.5L881.0,291.0L881.0,288.0L883.0,280.5L883.0,276.0L881.5,271.6L877.5,264.0L876.8,258.0L877.5,253.5L878.8,250.5L885.3,241.5L893.5,226.8L898.0,220.6L902.4,211.5L907.0,194.1L908.3,184.5L905.4,171.0L902.2,162.0L899.5,157.5L896.5,154.0L890.5,149.5L878.6,144.0L871.0,141.8L865.0,141.6L857.5,143.4L847.0,148.4L844.0,149.0L833.5,149.6L827.5,152.0L825.3,154.5L824.1,159.0L824.7,160.5L826.0,161.4L831.2,163.5L832.0,165.3L831.4,166.5L830.5,166.8L826.0,167.2L823.0,168.2L821.5,168.0L817.0,163.1L812.5,161.9L806.5,158.8L803.5,158.0L779.5,157.1L751.0,160.0L727.0,158.2L703.0,154.8L686.5,157.7L671.5,167.0L662.5,169.4L660.0,168.0L655.2,160.5L650.5,149.6L649.0,148.0L646.0,147.2L643.0,148.0L641.5,149.0L634.6,157.5L625.0,165.0L612.9,168.0L598.0,173.4L581.5,177.6L544.0,180.7L524.5,176.4L490.0,184.2L490.0,60.0ZM694.0,126.0L691.0,126.7L689.5,128.2L687.6,135.0L688.0,137.8L689.5,142.4L691.0,145.1L694.0,146.4L698.5,146.6L700.0,145.2L703.0,139.8L703.5,136.5L700.0,126.9L698.5,125.7ZM874.0,158.9L877.0,159.3L879.6,162.0L880.5,165.0L880.2,169.5L879.2,172.5L877.0,174.7L874.0,175.5L871.0,175.3L868.0,174.0L866.6,172.5L865.7,169.5L865.8,166.5L866.5,164.2L868.0,161.9L871.0,159.7ZM865.0,238.4L868.0,237.9L869.5,239.0L869.8,241.5L868.0,244.1L866.1,244.5L865.0,244.1L864.3,243.0L864.0,240.0ZM703.0,385.4L706.0,384.4L709.0,384.5L712.1,385.5L715.3,388.5L714.1,390.0L709.0,390.9L703.0,393.5L701.5,392.7L700.6,390.0L701.2,387.0ZM721.0,389.7L727.0,390.1L749.5,396.9L754.0,400.1L756.7,403.5L757.1,405.0L756.4,408.0L751.0,415.6L749.6,420.0L752.5,433.1L755.1,441.0L754.1,444.0L751.0,447.6L748.0,449.6L735.5,453.0L726.6,462.0L724.0,463.6L721.0,464.1L718.0,463.0L716.5,461.2L715.6,459.0L714.6,453.0L713.3,451.5L710.5,449.5L704.5,447.8L700.0,445.2L695.0,439.5L693.9,436.5L694.6,435.0L697.0,433.3L701.0,429.0L707.2,424.5L712.4,418.5L713.2,417.0L713.2,415.5L711.8,411.0L711.7,406.5L712.5,405.0L716.5,402.0L717.5,400.5L718.3,397.5L718.2,391.5L719.5,390.0ZM719.5,451.5L721.0,452.5L722.5,452.7L724.0,452.5L724.6,451.5L722.5,450.3Z" fill="#fff4c0"/>
<path d="M491.5,60.0L931.0,60.0L931.0,501.0L841.4,501.0L847.2,484.5L851.5,469.8L862.3,423.0L868.0,402.0L873.7,385.5L887.5,353.2L890.1,345.0L891.7,337.5L892.6,327.0L891.8,315.0L889.8,306.0L884.9,292.5L884.6,289.5L885.8,280.5L885.7,276.0L884.4,271.5L880.2,262.5L879.8,258.0L880.5,255.0L882.8,250.5L887.1,244.5L893.5,233.6L899.7,226.5L907.1,213.0L909.7,199.5L910.7,186.0L909.5,174.0L906.9,162.0L902.5,152.6L896.5,145.2L890.5,140.4L883.0,136.6L877.0,134.9L869.5,134.4L860.5,136.0L845.5,142.8L833.5,146.2L829.0,148.1L824.5,151.8L821.5,159.5L820.0,160.2L817.0,159.3L805.0,152.9L793.0,150.2L775.0,151.4L752.5,154.7L733.0,152.9L728.7,151.5L719.4,147.0L717.3,144.0L706.4,121.5L703.0,118.8L696.7,117.0L695.7,111.0L694.0,109.0L691.0,107.9L687.1,109.5L683.5,112.3L681.3,117.0L681.0,120.0L681.7,121.5L684.9,123.0L684.7,129.0L683.5,135.0L684.8,148.5L684.5,150.0L682.4,153.0L679.0,156.3L676.6,157.5L668.5,159.5L665.5,159.5L662.5,156.5L658.1,150.0L656.6,147.0L658.0,145.9L662.5,145.9L665.5,145.0L670.0,141.5L672.2,138.0L673.6,133.5L673.2,130.5L671.5,130.2L661.0,132.8L656.5,134.9L654.7,136.5L652.0,141.1L647.5,141.2L643.0,142.2L632.5,147.0L626.9,154.5L622.6,157.5L608.5,161.6L592.0,163.8L575.5,170.5L559.0,171.5L557.3,171.0L551.5,167.6L548.5,166.8L532.0,169.6L523.0,168.3L518.5,168.4L490.0,172.6L490.0,60.0ZM824.5,163.3L827.9,163.5L829.3,165.0L827.5,165.7L824.5,165.7L823.3,165.0L823.8,163.5ZM871.0,164.1L874.0,163.8L875.5,164.5L876.9,166.5L877.0,169.5L875.5,171.6L872.5,172.2L869.5,170.6L868.8,168.0L869.0,166.5L869.8,165.0ZM718.0,410.8L719.5,410.1L724.0,410.8L728.5,410.6L737.5,411.5L742.0,411.5L743.5,412.0L745.3,421.5L748.5,429.0L751.3,439.5L751.1,442.5L749.5,444.6L746.5,446.3L737.5,447.8L734.5,447.8L733.1,447.0L731.1,444.0L730.6,441.0L731.5,438.0L734.5,433.5L733.9,432.0L733.0,431.6L731.5,432.7L728.5,436.2L716.5,441.9L706.0,443.3L701.5,442.0L698.5,439.6L697.6,438.0L697.6,436.5L700.0,434.1L702.4,430.5L716.5,421.6L718.1,420.0L719.0,418.5L719.3,415.5L718.0,412.5Z" fill="#c8fae8"/>
<path d="M491.5,60.0L931.0,60.0L931.0,501.0L853.7,501.0L861.9,469.5L870.9,423.0L875.4,403.5L880.8,385.5L892.5,354.0L894.9,345.0L896.2,337.5L896.7,327.0L895.6,315.0L893.5,306.0L888.9,292.5L888.5,288.0L888.5,276.0L886.9,270.0L883.8,262.5L883.3,258.0L884.5,254.7L889.1,247.5L892.9,240.0L896.5,234.9L901.3,229.5L905.3,220.5L909.6,214.5L912.7,199.5L912.6,177.0L911.8,168.0L910.4,160.5L908.5,154.5L905.5,148.2L902.5,143.5L898.0,138.3L890.5,132.5L883.0,129.2L874.0,127.6L865.0,128.4L856.0,131.4L829.0,144.4L823.5,148.5L821.2,151.5L820.0,154.6L818.5,155.7L813.7,151.5L811.1,150.0L799.0,145.3L787.0,142.5L783.3,141.0L781.4,139.5L779.7,136.5L778.0,128.2L777.0,126.0L775.3,124.5L773.5,123.9L766.0,122.4L761.5,123.0L749.5,126.7L742.0,132.8L739.0,134.4L733.0,135.1L730.0,134.6L722.5,128.4L713.7,115.5L706.0,107.3L701.5,104.5L694.0,103.5L689.5,104.8L682.0,110.7L675.3,120.0L666.7,127.5L650.5,135.8L643.0,137.7L631.0,139.0L616.0,144.3L593.5,149.9L577.0,157.8L566.5,160.1L548.5,159.1L532.0,159.3L517.0,161.2L490.0,163.2L490.0,60.0Z" fill="#a8f4c0"/>
<path d="M491.5,60.0L931.0,60.0L931.0,501.0L864.7,501.0L871.1,471.0L879.1,423.0L882.6,405.0L887.2,387.0L897.2,355.5L900.3,339.0L900.8,328.5L899.9,318.0L898.1,309.0L892.7,291.0L891.5,276.0L888.0,262.5L887.9,258.0L895.0,242.1L903.4,231.0L906.5,222.0L911.5,215.3L914.9,201.0L914.2,189.0L915.0,171.0L913.4,157.5L911.5,151.0L908.5,144.0L904.0,136.9L899.6,132.0L892.0,126.1L884.5,122.7L875.5,121.0L866.5,121.5L859.0,123.5L851.5,126.9L830.5,139.1L820.0,146.2L817.0,147.2L814.0,147.0L805.0,144.1L789.3,138.0L787.7,136.5L786.0,133.5L784.0,125.5L782.4,121.5L779.5,117.9L775.0,115.1L770.5,113.8L764.5,113.8L760.0,114.9L749.5,119.3L743.5,121.1L737.5,121.9L731.5,121.2L725.5,118.6L716.5,111.9L712.0,108.0L706.0,100.6L703.0,97.9L700.0,96.6L698.5,96.6L697.0,97.1L688.0,103.4L680.5,109.9L673.0,118.6L664.0,126.3L655.0,131.4L643.0,135.2L631.0,136.7L626.5,138.1L593.5,145.4L571.0,154.6L550.0,154.0L529.0,154.9L490.0,154.8L490.0,60.0Z" fill="#80ec90"/>
<path d="M491.5,60.0L931.0,60.0L931.0,501.0L874.8,501.0L880.2,471.0L889.3,408.0L893.2,390.0L901.9,357.0L903.6,348.0L904.7,339.0L904.8,328.5L903.7,318.0L901.9,309.0L896.5,290.1L894.5,274.5L892.4,264.0L892.2,259.5L893.3,255.0L897.3,244.5L904.4,234.0L906.4,229.5L907.7,223.5L913.1,216.0L916.2,205.5L917.0,201.0L916.1,187.5L917.4,177.0L917.7,168.0L916.4,154.5L914.4,147.0L911.3,139.5L907.0,132.4L902.5,127.1L895.0,120.8L886.0,116.4L877.0,114.3L866.5,114.6L859.0,116.5L850.0,120.5L818.5,141.4L814.9,142.5L811.0,142.3L806.4,141.0L793.0,134.5L791.3,132.0L788.5,121.5L785.7,115.5L781.8,111.0L776.5,107.6L770.5,106.0L764.5,106.0L758.5,107.5L745.0,113.1L739.0,113.7L731.5,113.0L724.0,110.8L716.5,107.2L713.5,104.4L709.7,97.5L707.5,94.5L704.5,92.4L700.0,91.7L695.5,93.7L691.0,98.6L679.0,109.1L671.5,116.7L664.0,122.9L653.7,129.0L640.1,133.5L631.0,134.3L625.0,135.6L602.5,137.5L592.0,140.0L572.5,147.5L569.5,148.2L529.0,149.9L490.0,146.7L490.0,60.0Z" fill="#58e068"/>
<path d="M491.5,60.0L931.0,60.0L931.0,501.0L884.4,501.0L888.8,471.0L896.2,409.5L899.5,391.5L906.6,358.5L908.9,340.5L908.9,330.0L907.8,319.5L905.6,309.0L900.0,288.0L896.6,265.5L896.5,259.5L899.7,247.5L907.7,232.5L909.2,225.0L915.0,216.0L918.3,205.5L919.1,201.0L918.1,187.5L920.2,174.0L920.7,165.0L919.5,151.5L917.5,143.5L914.1,135.0L909.6,127.5L904.0,120.8L895.0,113.6L886.0,109.4L875.5,107.2L865.0,107.6L854.5,110.5L845.5,115.0L818.1,135.0L814.0,136.6L809.5,136.5L803.5,134.0L798.8,130.5L796.3,126.0L793.1,115.5L789.9,109.5L784.5,103.5L778.0,99.5L772.0,97.7L764.5,97.1L757.0,98.4L746.5,102.2L742.0,103.2L731.5,103.8L724.0,103.3L720.1,102.0L718.4,100.5L715.0,93.0L712.0,89.3L707.5,86.8L703.0,86.3L698.5,87.5L695.5,89.5L689.2,97.5L667.0,117.2L656.5,124.2L646.0,127.7L623.5,131.7L607.0,129.2L601.0,129.5L590.5,131.6L571.0,139.4L550.0,142.9L529.0,143.9L511.0,141.9L490.0,138.5L490.0,60.0Z" fill="#38d048"/>
<path d="M491.5,60.0L931.0,60.0L931.0,501.0L893.6,501.0L896.9,472.5L902.9,412.5L905.4,394.5L911.4,360.0L913.1,342.0L913.0,331.5L911.9,321.0L909.8,310.5L903.3,285.0L900.8,268.5L900.5,259.5L902.4,250.5L909.0,235.5L911.6,225.0L916.4,217.5L920.5,205.5L921.4,199.5L920.5,187.5L923.0,172.5L923.7,163.5L922.9,150.0L921.4,142.5L919.5,136.5L917.0,130.5L913.6,124.5L910.0,119.4L905.5,114.4L896.5,107.3L886.0,102.3L875.5,99.9L869.5,99.6L863.5,100.1L854.5,102.0L845.5,105.7L836.5,111.0L818.5,124.2L814.0,126.1L811.0,126.1L808.0,124.8L805.1,121.5L798.9,108.0L793.7,100.5L787.0,94.4L779.5,90.1L773.5,88.0L767.5,86.7L748.0,85.1L736.0,82.9L725.5,81.8L713.5,79.2L707.5,78.9L701.5,80.2L697.0,82.7L692.5,87.2L687.4,96.0L683.5,99.7L676.0,105.2L655.0,117.4L622.0,121.9L607.0,119.2L604.0,119.1L590.5,122.4L581.5,125.4L568.0,131.0L551.5,135.5L530.5,136.9L520.0,136.2L508.0,134.0L490.0,129.6L490.0,60.0Z" fill="#20c030"/>
<path d="M491.5,60.0L931.0,60.0L931.0,501.0L902.4,501.0L909.6,414.0L916.3,361.5L917.5,343.5L917.2,333.0L916.1,322.5L913.7,310.5L906.6,282.0L904.6,268.5L904.5,259.5L906.2,250.5L911.2,237.0L913.8,226.5L918.6,217.5L923.1,204.0L923.7,198.0L923.1,187.5L926.2,169.5L926.9,159.0L926.7,151.5L925.7,144.0L922.0,130.8L919.2,124.5L915.7,118.5L911.5,112.8L907.1,108.0L899.5,101.7L890.5,96.6L880.0,93.1L869.5,91.6L860.5,91.9L851.5,93.4L841.0,96.7L824.5,103.4L820.0,104.4L817.0,104.3L814.0,103.2L811.0,101.3L800.4,91.5L792.6,85.5L785.5,81.3L776.5,77.4L763.0,73.6L743.5,69.7L731.5,68.3L718.0,68.2L712.0,68.8L706.0,70.2L701.5,71.9L697.0,74.5L694.0,77.1L690.7,81.0L684.1,94.5L682.0,96.2L679.0,97.5L673.0,98.6L662.5,97.3L661.0,97.8L655.3,102.0L652.0,103.5L637.0,107.5L623.5,109.4L619.0,109.3L608.5,106.9L599.5,106.3L581.5,113.4L571.0,119.9L564.4,123.0L551.5,127.5L547.0,128.3L532.0,129.0L523.0,128.8L509.8,126.0L490.0,119.6L490.0,60.0Z" fill="#12a820"/>
<path d="M491.5,60.0L702.0,60.0L694.0,65.0L688.0,70.2L684.3,75.0L679.0,84.4L677.5,85.8L676.0,86.2L673.0,85.7L665.5,81.9L661.0,80.3L656.5,80.5L648.9,85.5L638.5,90.6L629.5,98.3L626.5,99.2L619.0,99.8L614.5,99.1L602.5,94.8L595.0,87.8L592.0,87.1L587.5,87.7L583.0,89.5L578.5,92.9L576.2,96.0L573.1,103.5L571.1,106.5L566.5,111.0L560.3,115.5L548.5,119.9L530.5,120.8L524.1,120.0L515.5,117.6L490.0,107.4L490.0,60.0ZM764.5,60.0L931.0,60.0L931.0,501.0L910.9,501.0L916.1,417.0L921.0,364.5L921.9,345.0L921.3,333.0L920.1,322.5L917.6,310.5L910.2,280.5L908.6,270.0L908.3,261.0L909.5,252.0L916.0,228.3L923.2,211.5L925.9,201.0L926.1,186.0L930.3,163.5L930.9,154.5L930.5,148.5L928.9,139.5L925.0,126.1L918.9,114.0L914.5,107.8L910.0,102.7L905.5,98.5L899.5,94.0L893.5,90.4L887.5,87.6L875.5,84.1L863.5,82.7L851.5,83.0L830.5,85.5L824.5,85.5L820.0,84.8L811.0,81.5L785.5,68.2L763.1,60.0Z" fill="#0e8c18"/>
<path d="M491.5,60.0L667.0,60.0L649.0,63.9L631.0,72.1L625.0,73.8L619.0,73.3L605.5,68.8L598.0,67.1L589.0,66.8L581.5,68.2L574.0,71.4L568.0,75.3L561.8,81.0L553.0,90.9L547.0,95.6L533.5,102.6L530.5,103.6L526.0,104.1L520.0,103.4L512.5,101.1L490.0,91.3L490.0,60.0ZM800.5,60.0L931.0,60.0L931.0,128.1L923.9,112.5L916.0,100.8L911.5,95.8L905.5,90.3L893.5,82.4L881.5,77.2L869.5,74.1L857.5,72.5L833.5,71.0L823.0,69.2L809.5,64.7L802.1,61.5L799.9,60.0ZM931.0,179.0L931.0,501.0L919.2,501.0L922.8,415.5L926.1,364.5L926.3,345.0L925.5,333.0L924.1,322.5L921.6,310.5L914.1,280.5L912.5,270.0L912.2,261.0L913.5,250.5L918.6,229.5L924.7,214.5L927.5,205.5L928.5,199.5L929.2,186.0Z" fill="#0a6a1a"/>
<ellipse cx="745.0" cy="242.0" rx="2.5" ry="5.0" fill="#ea2410"/>
<ellipse cx="752.0" cy="284.0" rx="6.0" ry="10.0" fill="#ea2410"/>
<ellipse cx="841.0" cy="244.0" rx="3.0" ry="5.0" fill="#ea2410"/>
<ellipse cx="824.0" cy="270.0" rx="3.0" ry="5.0" fill="#ea2410"/>
<ellipse cx="860.0" cy="221.0" rx="4.0" ry="2.5" fill="#ea2410"/>
<ellipse cx="748.0" cy="296.0" rx="4.0" ry="6.0" fill="#ea2410"/>
<ellipse cx="652.0" cy="172.0" rx="3.0" ry="2.5" fill="#ffc050"/>
</g>
<path d="M813.7,141.1L806.3,147.7L798.8,154.3L783.3,173.2L772.5,181.7M772.5,181.7L777.2,182.6L776.3,192.1L766.9,199.2L763.2,208.6L755.2,232.3L751.9,244.1L749.1,255.9L753.8,262.1M753.8,262.1L762.2,265.4L771.6,268.7L783.3,268.7L795.0,266.8L798.8,255.9L795.0,247.9L800.6,239.4L803.4,235.6M777.2,182.6L783.3,191.2L781.9,201.6L788.0,208.6L795.0,211.0L790.3,218.1L792.7,227.5L799.7,234.6L803.4,235.6M844.2,154.3L840.9,163.7L836.2,173.2L834.8,185.0L831.5,194.5L813.7,201.6L806.7,208.6L803.4,220.5L803.4,235.6M865.3,154.3L860.6,163.7L855.0,173.2L858.3,192.1L860.6,203.9L853.6,215.7L847.5,220.5L832.5,227.5L823.1,232.3L813.7,241.7L806.7,237.0L803.4,235.6M860.6,203.9L870.0,207.2L879.3,208.6L884.0,196.8L881.7,192.1L893.4,182.6L895.7,175.6M879.3,208.6L888.7,203.9L898.1,196.8L905.1,195.9L921.5,194.5M879.3,208.6L895.7,213.4L900.4,208.6L907.4,206.3L922.0,205.3M853.6,215.7L865.3,211.0L874.6,214.8L884.0,220.5L888.7,224.2L907.4,221.4L919.2,219.5M888.7,224.2L898.1,229.9L907.4,232.3L909.3,233.7M888.7,224.2L886.4,232.3L895.7,239.4L898.1,244.1M798.8,255.9L800.6,263.0L800.6,277.2L799.7,288.2M799.7,288.2L810.9,282.8L820.0,280.0L825.5,284.7L840.0,287.3L851.2,294.7L862.0,295.6L867.5,301.2L860.2,310.3L863.9,319.7L856.6,323.3M856.6,323.3L870.0,322.6M856.6,323.3L852.9,332.5L848.4,343.3L846.5,350.9L842.3,357.1L841.8,362.1M841.8,362.1L854.7,360.8M841.8,362.1L831.8,365.8L823.1,368.3L814.5,370.2L808.1,372.7L802.1,373.3M814.5,370.2L819.4,376.4M799.7,288.2L794.1,294.7L786.2,299.3L785.3,306.5L787.1,319.7L781.6,325.1L770.6,326.0L756.6,329.2L747.2,336.3M776.3,293.7L785.6,293.7L785.6,299.9L776.3,299.9L776.3,293.7M753.8,262.1L751.0,272.4L746.3,286.6L742.5,291.4L730.8,303.2L723.8,310.3L721.5,322.1M676.9,318.8L691.0,314.0L705.1,317.4L714.4,315.0L716.8,319.7L721.5,322.1M721.5,322.1L726.1,328.2L737.9,331.5L747.2,336.3M747.2,336.3L742.5,348.1L735.5,359.9L728.5,369.3L726.1,372.7M747.2,336.3L751.9,342.4L766.0,345.7L786.0,343.3L788.4,354.7L794.1,359.4L794.7,365.8L796.9,372.7L802.1,373.3M726.1,372.7L737.9,371.7L751.9,375.5L761.3,376.4L763.6,385.9L773.0,391.6L780.0,397.7M726.1,372.7L714.4,378.8L710.7,386.8M707.9,403.8L716.3,405.7L727.5,412.4L740.2,415.2L751.0,410.5L762.2,411.4L773.2,408.6M717.2,416.1L721.9,418.0L734.8,423.7L743.9,431.0L752.8,436.5L760.3,438.3L766.0,440.2M611.0,100.0L618.0,105.0L621.0,120.0L623.0,130.0L629.5,139.0L632.0,130.0L644.5,129.0L649.5,121.0L659.5,121.0L659.5,109.0M659.5,121.0L662.0,130.0L677.0,142.5L687.0,149.0L684.5,152.5L677.0,175.0L664.5,199.0L667.0,205.0M667.0,205.0L666.0,219.5L631.0,220.0M667.0,205.0L677.0,220.0L687.0,226.0L738.0,230.0L755.2,232.3M631.0,220.0L624.5,219.0L617.0,212.0L609.5,212.0L604.5,217.5L591.0,227.5M631.0,220.0L631.5,242.5L646.0,246.0L649.5,257.5L639.5,272.5M499.5,202.5L577.0,231.0M707.0,101.0L717.0,109.0L724.5,120.0L729.5,132.5L738.0,139.0L744.0,132.0L750.0,124.0" fill="none" stroke="#1a1a1a" stroke-width="0.75" stroke-linejoin="round" filter="url(#jag)"/>
<path d="M539.5,106.2L548.0,105.0L567.0,100.0L571.0,105.0L572.0,111.0L581.0,115.0L592.0,114.0L604.5,104.0L611.0,100.0L604.5,92.5L602.0,82.5L596.0,77.0L609.5,80.0L624.5,77.5L637.0,71.0L643.0,67.5L648.0,68.0L649.5,75.0L652.0,81.0L648.0,92.5L652.0,102.5L659.5,109.0L674.5,104.0L689.5,101.0L692.0,96.0L704.5,96.0L707.0,101.0L717.0,99.0L727.5,96.0L737.5,79.0L741.0,75.5L745.0,77.5L749.0,92.5L759.0,106.0L756.0,116.0L750.0,124.0L752.5,126.0L775.0,126.0L775.0,131.0L772.0,137.0L777.5,131.0L787.5,130.0L800.0,135.0L812.5,140.0L817.5,150.0L815.0,157.5L827.5,149.0L842.5,152.5L852.5,155.0L865.0,154.0L880.0,162.5L892.5,174.0L905.0,179.0L915.0,180.0L917.5,181.0L922.0,190.0L922.5,202.5L920.0,215.0L912.5,225.0L905.0,234.0L897.5,245.0L887.5,256.0L880.0,265.0L877.5,275.0L879.0,287.5L879.0,297.5L876.0,313.0L871.0,324.0L869.0,334.6L863.4,346.0L855.6,358.0L855.6,364.0L846.0,370.0L844.0,374.6L824.4,375.6L816.6,377.5L807.0,383.4L790.0,391.0L784.4,395.0L780.0,397.5L774.6,404.8L772.7,414.5L772.7,428.0L769.0,434.0L761.0,441.0L757.0,445.7L755.0,453.5L749.0,461.0L741.5,467.0L735.6,473.0L729.8,482.8L724.0,492.6L720.0,493.5L719.0,490.6L723.0,484.8L718.0,479.0L704.4,470.0L692.7,464.0L690.0,459.4L679.0,455.5L674.0,454.5L685.0,444.0L694.6,434.0L706.0,426.0L718.0,421.0L717.0,418.4L715.0,407.7L707.0,404.0L709.0,395.0L710.0,389.0L700.0,385.0L697.5,376.0L692.5,367.5L672.5,364.0L672.5,352.5L669.0,342.5L672.5,330.0L675.0,319.0L666.0,311.0L665.0,304.0L646.0,300.0L642.5,290.0L644.5,280.0L639.5,272.5L628.0,271.0L617.0,264.0L599.5,257.5L592.0,250.0L589.5,240.0L591.0,227.5L574.5,231.0L553.0,244.0L533.0,242.5L532.0,229.0L517.0,232.5L516.0,229.0L506.0,224.0L501.0,212.5L499.5,200.0L506.0,194.0L507.0,182.5L512.0,175.0L517.0,175.0L532.0,170.0L541.0,165.0L543.0,150.0L543.0,135.0L538.0,125.0L539.5,116.0L546.0,113.0L546.0,110.0L539.5,109.0Z" fill="none" stroke="#111" stroke-width="0.9" stroke-linejoin="round" filter="url(#jag)"/>
<path d="M251,134L255,133L258,131L262,130L266,127L270,124L274,121L278,118L281,116M253,136L257,134L261,133L265,130L269,127L273,124L277,120M256,131L259,128L262,126L266,124L270,121L275,118M262,133L266,131L270,128L274,126L279,121M281,121L284,125L283,129L286,132L291,133L296,131L300,130L303,131M300,131L299,136L297,140L296,146M303,125L306,128L309,127M283,123L288,124L286,127M346,137L348,140L346,143L349,146L352,143L355,144M268,119L271,116L274,114L278,113L281,115M321,125L322,128L324,126.5L326,130L328,128L330,132L332,130.5L334,134L336,132.5L338,136L340,134.5L342,138L344,136.5L346,140M308,126L309,129L311,126.5L313,129L315,126M356,143L357,146L359,144L361,147L363,145" fill="none" stroke="#111" stroke-width="0.8" stroke-linejoin="round" transform="matrix(0.9370,0,0,0.9453,490.56,13.50)"/>
<path d="M743.5,454L745.5,455.5L742,464L737.5,472L735.5,471L739.5,463Z" fill="#fff" stroke="#111" stroke-width="0.6"/>
<rect x="941" y="433.0" width="11" height="24.3" fill="#ff3c00"/>
<rect x="941" y="408.2" width="11" height="25.1" fill="#ff5a00"/>
<rect x="941" y="384.3" width="11" height="24.2" fill="#ff7f10"/>
<rect x="941" y="360.0" width="11" height="24.6" fill="#ffa030"/>
<rect x="941" y="335.7" width="11" height="24.6" fill="#ffc050"/>
<rect x="941" y="311.4" width="11" height="24.6" fill="#ffe080"/>
<rect x="941" y="287.0" width="11" height="24.7" fill="#fff4c0"/>
<rect x="941" y="262.4" width="11" height="24.9" fill="#c8fae8"/>
<rect x="941" y="238.0" width="11" height="24.7" fill="#a8f4c0"/>
<rect x="941" y="213.5" width="11" height="24.8" fill="#80ec90"/>
<rect x="941" y="189.6" width="11" height="24.2" fill="#58e068"/>
<rect x="941" y="165.4" width="11" height="24.5" fill="#38d048"/>
<rect x="941" y="141.5" width="11" height="24.2" fill="#20c030"/>
<rect x="941" y="117.6" width="11" height="24.2" fill="#12a820"/>
<rect x="941" y="93.0" width="11" height="24.9" fill="#0e8c18"/>
<path d="M941,93L946.5,69.5L952,93Z" fill="#0a6a1a"/>
<path d="M941,457L946.5,473L952,457Z" fill="#ea2410"/>
<g stroke="#222" stroke-width="0.6" fill="none">
<path d="M941,93L946.5,69.5L952,93L952,457L946.5,473L941,457Z"/>
<line x1="941" y1="457.0" x2="954" y2="457.0"/>
<line x1="941" y1="433.0" x2="954" y2="433.0"/>
<line x1="941" y1="408.2" x2="954" y2="408.2"/>
<line x1="941" y1="384.3" x2="954" y2="384.3"/>
<line x1="941" y1="360.0" x2="954" y2="360.0"/>
<line x1="941" y1="335.7" x2="954" y2="335.7"/>
<line x1="941" y1="311.4" x2="954" y2="311.4"/>
<line x1="941" y1="287.0" x2="954" y2="287.0"/>
<line x1="941" y1="262.4" x2="954" y2="262.4"/>
<line x1="941" y1="238.0" x2="954" y2="238.0"/>
<line x1="941" y1="213.5" x2="954" y2="213.5"/>
<line x1="941" y1="189.6" x2="954" y2="189.6"/>
<line x1="941" y1="165.4" x2="954" y2="165.4"/>
<line x1="941" y1="141.5" x2="954" y2="141.5"/>
<line x1="941" y1="117.6" x2="954" y2="117.6"/>
<line x1="941" y1="93.0" x2="954" y2="93.0"/>
</g>
<text x="954.4" y="461.0" font-size="10.8" class="sf" fill="#222" textLength="5.3" lengthAdjust="spacingAndGlyphs">0</text>
<text x="954.4" y="437.0" font-size="10.8" class="sf" fill="#222" textLength="10.5" lengthAdjust="spacingAndGlyphs">20</text>
<text x="954.4" y="412.2" font-size="10.8" class="sf" fill="#222" textLength="10.5" lengthAdjust="spacingAndGlyphs">40</text>
<text x="954.4" y="388.3" font-size="10.8" class="sf" fill="#222" textLength="10.5" lengthAdjust="spacingAndGlyphs">60</text>
<text x="954.4" y="364.0" font-size="10.8" class="sf" fill="#222" textLength="10.5" lengthAdjust="spacingAndGlyphs">80</text>
<text x="954.4" y="339.7" font-size="10.8" class="sf" fill="#222" textLength="15.8" lengthAdjust="spacingAndGlyphs">100</text>
<text x="954.4" y="315.4" font-size="10.8" class="sf" fill="#222" textLength="15.8" lengthAdjust="spacingAndGlyphs">130</text>
<text x="954.4" y="291.0" font-size="10.8" class="sf" fill="#222" textLength="15.8" lengthAdjust="spacingAndGlyphs">160</text>
<text x="954.4" y="266.4" font-size="10.8" class="sf" fill="#222" textLength="15.8" lengthAdjust="spacingAndGlyphs">200</text>
<text x="954.4" y="242.0" font-size="10.8" class="sf" fill="#222" textLength="15.8" lengthAdjust="spacingAndGlyphs">230</text>
<text x="954.4" y="217.5" font-size="10.8" class="sf" fill="#222" textLength="15.8" lengthAdjust="spacingAndGlyphs">260</text>
<text x="954.4" y="193.6" font-size="10.8" class="sf" fill="#222" textLength="15.8" lengthAdjust="spacingAndGlyphs">300</text>
<text x="954.4" y="169.4" font-size="10.8" class="sf" fill="#222" textLength="15.8" lengthAdjust="spacingAndGlyphs">330</text>
<text x="954.4" y="145.5" font-size="10.8" class="sf" fill="#222" textLength="15.8" lengthAdjust="spacingAndGlyphs">360</text>
<text x="954.4" y="121.6" font-size="10.8" class="sf" fill="#222" textLength="15.8" lengthAdjust="spacingAndGlyphs">400</text>
<text x="954.4" y="97.0" font-size="10.8" class="sf" fill="#222" textLength="15.8" lengthAdjust="spacingAndGlyphs">430</text>
<text transform="translate(985.7,267.2) rotate(-90)" font-size="15.5" class="sf" fill="#1a1a1a" textLength="40" lengthAdjust="spacing">(mm)</text>
<line x1="932.5" y1="318" x2="932.5" y2="386" stroke="#555" stroke-width="1"/><line x1="933" y1="240" x2="933" y2="257" stroke="#bbb" stroke-width="1"/><line x1="933" y1="420" x2="933" y2="432" stroke="#ccc" stroke-width="1"/>
<text class="t" x="43" y="52.8" textLength="411" lengthAdjust="spacingAndGlyphs">Precipitação acumulada prevista para junho</text>
<text class="t" x="486.6" y="53.3" textLength="466" lengthAdjust="spacingAndGlyphs">Precipitação média em junho nos últimos 30 anos</text>
</svg>
</body></html>
